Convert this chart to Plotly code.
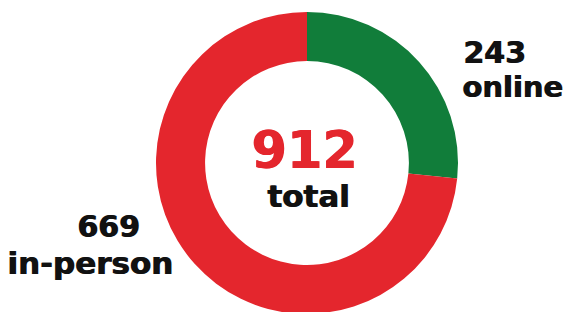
import plotly.graph_objects as go

labels = ["online", "in-person"]
values = [243, 669]
colors = ["#117D3A", "#E4262D"]
total = sum(values)

W, H = 572, 312
OFF = 8  # page body margin offset
FONT = "DejaVu Sans"

fig = go.Figure(go.Pie(
    labels=labels, values=values, sort=False, direction="clockwise", rotation=0,
    hole=0.675, marker=dict(colors=colors, line=dict(width=0)),
    textinfo="none", hoverinfo="label+value", showlegend=False,
    domain=dict(x=[(156 - OFF) / W, (458 - OFF) / W], y=[1 - (314 - OFF) / H, 1 - (12 - OFF) / H]),
))

def px(x):
    return (x - OFF) / W

def py(y):
    return 1 - (y - OFF) / H

ann = [
    dict(text=f"<b>{total}</b>", x=px(304), y=py(151), xanchor="center", size=51, color="#E4262D"),
    dict(text="<b>total</b>", x=px(308), y=py(196), xanchor="center", size=31, color="#111111"),
    dict(text=f"<b>{values[0]}</b>", x=px(461), y=py(53), xanchor="left", size=30, color="#111111"),
    dict(text=f"<b>{labels[0]}</b>", x=px(460), y=py(87), xanchor="left", size=29, color="#111111"),
    dict(text=f"<b>{values[1]}</b>", x=px(75), y=py(226), xanchor="left", size=30, color="#111111"),
    dict(text=f"<b>{labels[1]}</b>", x=px(5), y=py(263), xanchor="left", size=31, color="#111111"),
]
fig.update_layout(
    width=W, height=H, margin=dict(l=0, r=0, t=0, b=0),
    paper_bgcolor="white", plot_bgcolor="white",
    annotations=[dict(text=a["text"], x=a["x"], y=a["y"], xref="paper", yref="paper",
                      xanchor=a["xanchor"], yanchor="middle", showarrow=False,
                      font=dict(family=FONT, size=a["size"], color=a["color"],
                                shadow=f"0.9px 0 0 {a['color']}")) for a in ann],
)
fig.write_html("out.html")
